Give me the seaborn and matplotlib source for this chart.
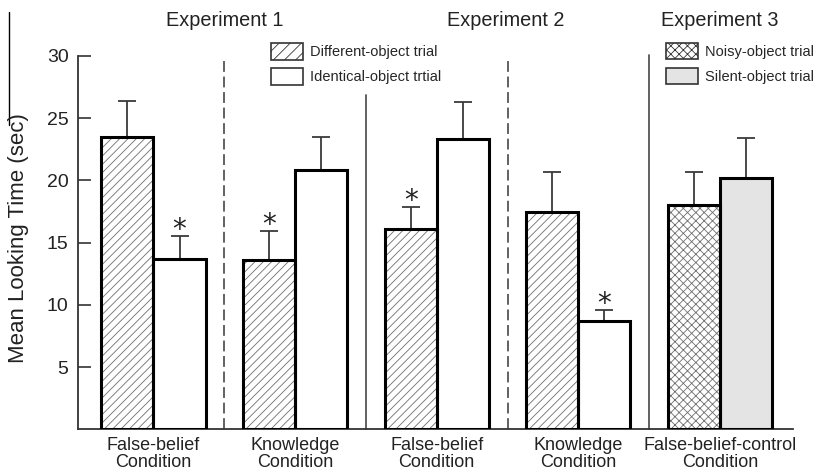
import matplotlib
matplotlib.use("Agg")
import matplotlib.pyplot as plt
import matplotlib.transforms as mtransforms
from matplotlib.patches import Patch, Rectangle
from matplotlib.lines import Line2D
import seaborn as sns
import pandas as pd
import numpy as np

# ---------------- data ----------------
group_keys = ["E1-FB", "E1-K", "E2-FB", "E2-K", "E3-FBC"]
group_labels = ["False-belief\nCondition", "Knowledge\nCondition",
                "False-belief\nCondition", "Knowledge\nCondition",
                "False-belief-control\nCondition"]
first_vals = [23.5, 13.6, 16.1, 17.5, 18.0]      # different-object / noisy-object
first_err = [2.9, 2.3, 1.75, 3.2, 2.7]
second_vals = [13.7, 20.8, 23.3, 8.7, 20.2]      # identical-object / silent-object
second_err = [1.8, 2.7, 3.0, 0.85, 3.25]
first_star = [False, True, True, False, False]
second_star = [True, False, False, True, False]
experiments = ["Experiment 1", "Experiment 2", "Experiment 3"]
legend1_labels = ["Different-object trial", "Identical-object trtial"]
legend2_labels = ["Noisy-object trial", "Silent-object trial"]
y_ticks = [5, 10, 15, 20, 25, 30]
y_label = "Mean Looking Time (sec)"

df = pd.DataFrame({
    "group": group_keys * 2,
    "slot": ["first"] * 5 + ["second"] * 5,
    "value": first_vals + second_vals,
})

# ---------------- style ----------------
sns.set_theme(style="ticks")
plt.rcParams["font.family"] = ["Liberation Sans", "DejaVu Sans"]
plt.rcParams["hatch.linewidth"] = 0.6

W, H = 818, 471
fig = plt.figure(figsize=(W / 100, H / 100), dpi=100)
ax_l, ax_r, ax_b, ax_t = 78.3, 793.0, 429.3, 56.0
ax = fig.add_axes([ax_l / W, 1 - ax_b / H, (ax_r - ax_l) / W, (ax_b - ax_t) / H])

sns.barplot(data=df, x="group", y="value", hue="slot", order=group_keys,
            hue_order=["first", "second"], palette=["white", "white"],
            width=0.735, dodge=True, gap=0, errorbar=None, legend=False,
            edgecolor="black", linewidth=2.2, saturation=1, ax=ax)

bars = sorted(ax.patches, key=lambda p: p.get_x())
first_bars = bars[0::2]
second_bars = bars[1::2]

for i, p in enumerate(first_bars):
    p.set_hatch("xxxx" if i == 4 else "////")
    p.set_edgecolor("#6e6e6e")
    p.set_linewidth(0)
    p.set_facecolor("white")
for i, p in enumerate(second_bars):
    p.set_facecolor("#e4e4e4" if i == 4 else "white")
    p.set_linewidth(0)

for p in bars:
    ax.add_patch(Rectangle(p.get_xy(), p.get_width(), p.get_height(),
                           fill=False, edgecolor="black", linewidth=2.2,
                           zorder=4, joinstyle="miter"))

# error bars (upper only)
def centers(bs):
    return [p.get_x() + p.get_width() / 2 for p in bs]

for bs, vals, errs, stars in [(first_bars, first_vals, first_err, first_star),
                              (second_bars, second_vals, second_err, second_star)]:
    cx = centers(bs)
    ax.errorbar(cx, vals, yerr=[np.zeros(len(vals)), errs], fmt="none",
                ecolor="#3a3a3a", elinewidth=1.3, capsize=6.5, capthick=1.3,
                zorder=3)
    for x, v, e, s in zip(cx, vals, errs, stars):
        if s:
            ax.annotate("*", xy=(x, v + e), xytext=(0, -1), textcoords="offset points",
                        ha="center", va="baseline", fontsize=20, color="#222222",
                        family="DejaVu Sans")

# separators between groups
seps = []
for i in range(4):
    r = second_bars[i].get_x() + second_bars[i].get_width()
    l = first_bars[i + 1].get_x()
    seps.append((r + l) / 2)
sep_styles = [("--", 29.85), ("-", 26.85), ("--", 29.85), ("-", 30.1)]
for x, (ls, top) in zip(seps, sep_styles):
    if ls == "--":
        ax.plot([x, x], [0, top], color="#555555", lw=1.3, linestyle=(0, (6, 2.6)),
                clip_on=False, zorder=2)
    else:
        ax.plot([x, x], [0, top], color="#555555", lw=1.3, clip_on=False, zorder=2)

# axes
ax.set_ylim(0, 30)
ax.set_xlim(-0.531, 4.516)
ax.set_yticks(y_ticks)
ax.set_yticklabels([str(t) for t in y_ticks], fontsize=14, color="#222222")
ax.set_xticks(range(len(group_labels)))
ax.set_xticklabels(group_labels, fontsize=13, color="#222222", linespacing=1.0)
ax.tick_params(axis="y", direction="in", length=9.4, width=1.2, color="#333333", pad=7)
ax.tick_params(axis="x", length=0, pad=5.5)
ax.set_xlabel("")
ax.set_ylabel("")
for s in ["top", "right"]:
    ax.spines[s].set_visible(False)
for s in ["left", "bottom"]:
    ax.spines[s].set_linewidth(1.3)
    ax.spines[s].set_color("#333333")

fig.text(19 / W, 1 - 238.5 / H, y_label, rotation=90, ha="center", va="center",
         fontsize=16, color="#222222")

# experiment titles
trans = mtransforms.blended_transform_factory(ax.transData, ax.transAxes)
bar5_center = (first_bars[4].get_x() + second_bars[4].get_x() + second_bars[4].get_width()) / 2
exp_x = [seps[0], seps[2] - 0.01, bar5_center]
for x, t in zip(exp_x, experiments):
    ax.text(x, (ax_b - 21) / (ax_b - ax_t), t, transform=trans, ha="center",
            va="center", fontsize=14.3, color="#222222")

# legends
fs = 10.5
h1 = [Patch(facecolor="white", edgecolor="#333333", hatch="///", lw=1.2),
      Patch(facecolor="white", edgecolor="#333333", lw=1.2)]
h2 = [Patch(facecolor="white", edgecolor="#333333", hatch="xxxx", lw=1.2),
      Patch(facecolor="#e4e4e4", edgecolor="#333333", lw=1.2)]
leg_kw = dict(loc="upper left", frameon=False, fontsize=fs, borderpad=0,
              borderaxespad=0, handlelength=2.2, handleheight=1.37,
              handletextpad=0.5, labelspacing=0.58)
leg1 = fig.legend(h1, legend1_labels, bbox_to_anchor=(271 / W, 1 - 43.3 / H), **leg_kw)
leg2 = fig.legend(h2, legend2_labels, bbox_to_anchor=(665.7 / W, 1 - 42.7 / H), **leg_kw)

# stray scan line at left margin
fig.add_artist(Line2D([9 / W, 9 / W], [1 - 12 / H, 1 - 125 / H], color="black", lw=1))

fig.savefig("out.png", dpi=100, facecolor="white")
